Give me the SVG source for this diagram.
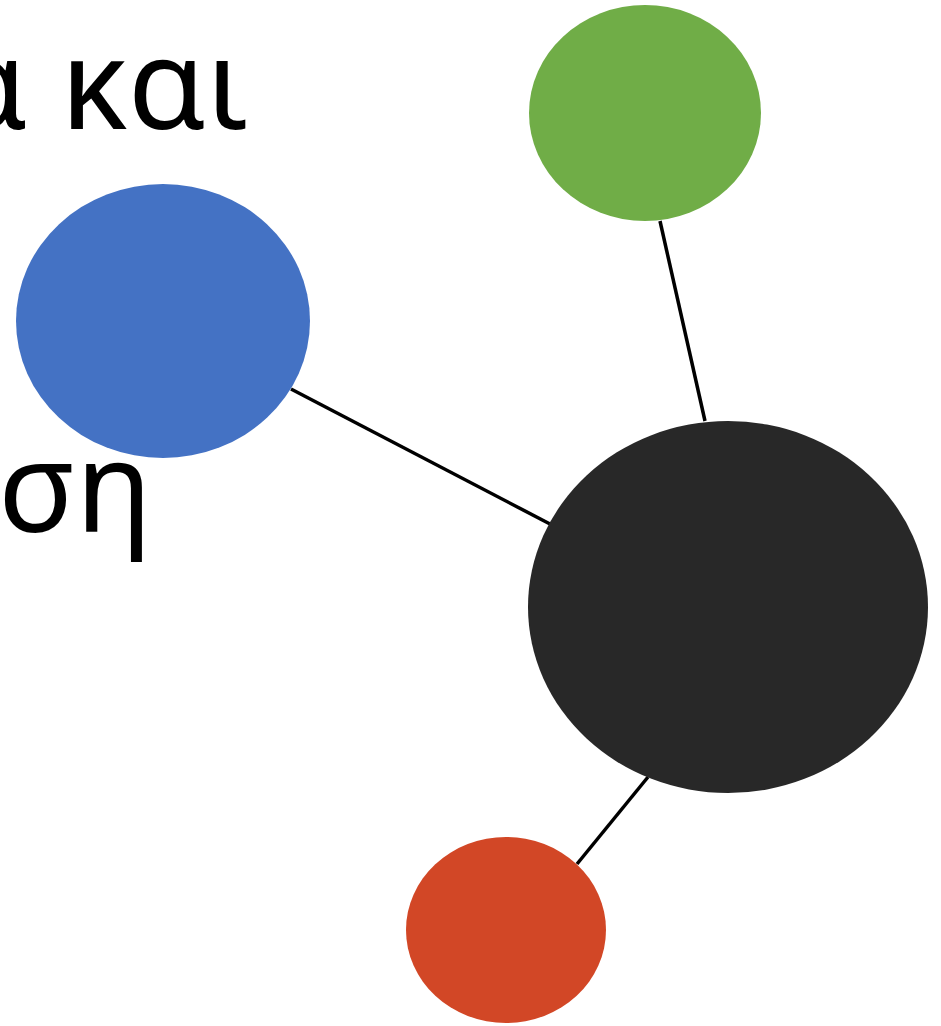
<svg xmlns="http://www.w3.org/2000/svg" width="941" height="1026" viewBox="0 0 941 1026">
<style>
.t{font-family:"Noto Sans","Open Sans","DejaVu Sans",sans-serif;font-size:126px;fill:#000}
.c{stroke:#000;stroke-width:3.5;fill:none}
</style>
<rect width="941" height="1026" fill="#fff"/>
<text class="t" x="248" y="129" text-anchor="end">α και</text>
<text class="t" x="152" y="532" text-anchor="end">ση</text>
<g id="connectors">
<line class="c" x1="660" y1="221" x2="705" y2="421"/>
<line class="c" x1="291" y1="389" x2="550" y2="524"/>
<line class="c" x1="648" y1="777" x2="577" y2="864"/>
</g>
<g id="node-green"><ellipse cx="645" cy="113" rx="116" ry="108" fill="#70AD47"/></g>
<g id="node-blue"><ellipse cx="163" cy="321" rx="147" ry="137" fill="#4472C4"/></g>
<g id="node-black"><ellipse cx="728" cy="607" rx="200" ry="186" fill="#282828"/></g>
<g id="node-red"><ellipse cx="506" cy="930" rx="100" ry="93" fill="#D24726"/></g>
</svg>
